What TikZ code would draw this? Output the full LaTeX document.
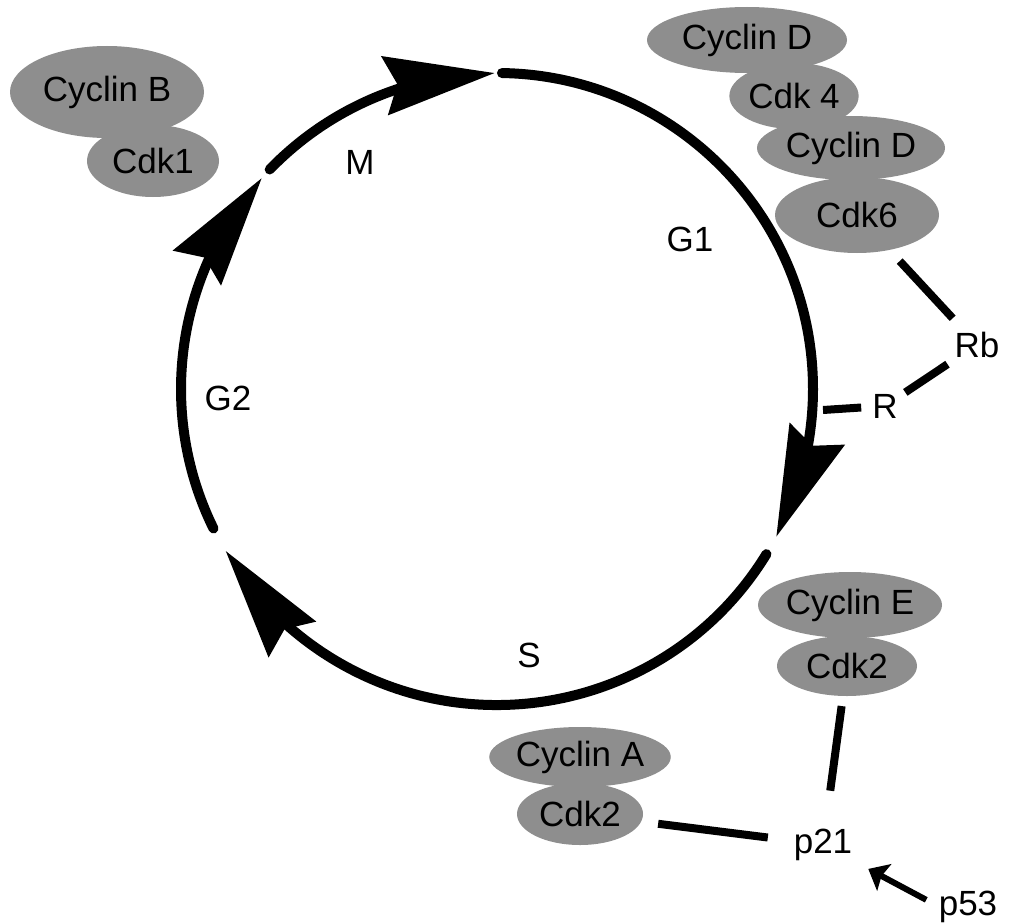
\documentclass[tikz,border=0pt]{standalone}
\usepackage{fontspec}
\setmainfont{Liberation Sans}
\usetikzlibrary{arrows.meta,bending,calc,shapes.geometric}
\definecolor{blobgray}{RGB}{142,142,142}
\begin{document}
\begin{tikzpicture}[x=1pt,y=-1pt,
  font=\fontsize{35}{42}\selectfont,
  blob/.style={ellipse, fill=blobgray, inner sep=0pt},
  cyc/.style={line width=10pt, line cap=round, -{Stealth[length=110pt,width=58pt,inset=12pt,flex=0.7]}},
  link/.style={line width=8pt},
  lbl/.style={inner sep=0pt, anchor=base}]
\fill[white] (0,0) rectangle (1017,923);
\useasboundingbox (0,0) rectangle (1017,923);
% complexes
\node[blob, minimum width=194pt, minimum height=92pt] (cycB) at (107,92) {Cyclin B};
\node[blob, minimum width=132pt, minimum height=72pt] (cdk1) at (153,161) {Cdk1};
\node[blob, minimum width=200pt, minimum height=66pt] (cycD1) at (747,40) {Cyclin D};
\node[blob, minimum width=120pt, minimum height=66pt] (cdk4) at (794,96) {Cdk 4};
\node[blob, minimum width=188pt, minimum height=64pt] (cycD2) at (851,148) {Cyclin D};
\node[blob, minimum width=164pt, minimum height=76pt] (cdk6) at (857,215) {Cdk6};
\node[blob, minimum width=184pt, minimum height=66pt] (cycE) at (850,605) {Cyclin E};
\node[blob, minimum width=140pt, minimum height=60pt] (cdk2E) at (847,666) {Cdk2};
\node[blob, minimum width=160pt, minimum height=60pt] (cycA) at (580,757) {Cyclin A};
\node[blob, minimum width=126pt, minimum height=62pt] (cdk2A) at (580,814) {Cdk2};
% labels
\node[lbl] (M) at (360,175) {M};
\node[lbl] (G1) at (690,251) {G1};
\node[lbl] (G2) at (228,410) {G2};
\node[lbl] (S) at (529,667) {S};
\node[lbl] (p21) at (823,853) {p21};
\node[lbl] (p53) at (968,915) {p53};
\node[lbl] (R) at (885,418) {R};
\node[lbl] (Rb) at (977,357) {Rb};
% cycle
\coordinate (c) at (497,389);
\draw[cyc] ($(c)+(-136:316)$) arc[start angle=-136, end angle=-90.4, radius=316];
\draw[cyc] ($(c)+(-89.1:316)$) arc[start angle=-89.1, end angle=27.9, radius=316];
\draw[cyc] ($(c)+(31.5:316)$) arc[start angle=31.5, end angle=149.2, radius=316];
\draw[cyc] ($(c)+(153.8:316)$) arc[start angle=153.8, end angle=221.9, radius=316];
% links
\coordinate (rbar) at (823,410);
\draw[link, shorten <=15pt, shorten >=18pt] (cdk6) -- (Rb);
\draw[link, shorten <=9pt, shorten >=12pt] (R) -- (Rb);
\draw[link, shorten >=11pt] (rbar) -- (R);
\draw[link, shorten <=17pt, shorten >=26pt] (cdk2A) -- (p21);
\draw[link, shorten <=10pt, shorten >=38pt] (cdk2E) -- (p21);
\draw[link, line width=6pt, -{Stealth[length=18pt,width=30pt,inset=3pt]}, shorten <=14pt, shorten >=18pt] (p53.west) -- (p21.south east);
\end{tikzpicture}
\end{document}
